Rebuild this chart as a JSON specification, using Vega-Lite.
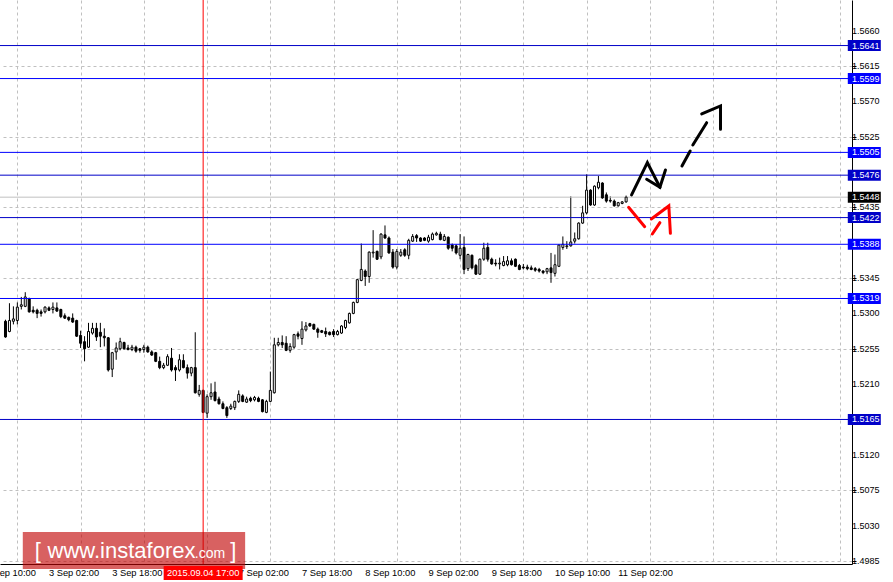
{
  "$schema": "https://vega.github.io/schema/vega-lite/v6.json",
  "width": 852,
  "height": 564,
  "autosize": {"type": "none"},
  "padding": {"left": 0, "top": 0, "right": 41, "bottom": 18},
  "background": "white",
  "config": {
    "view": {"stroke": null},
    "font": "Liberation Sans",
    "axis": {"title": null, "labels": false, "tickColor": "#000000", "domainColor": "#000000", "gridColor": "#c0c0c0", "gridDash": [3, 3], "gridOpacity": 1, "tickSize": 4, "domainWidth": 1}
  },
  "resolve": {"scale": {"color": "independent"}},
  "datasets": {
    "candles": [
      {"i": -11, "o": 1.5290, "h": 1.5292, "l": 1.5269, "c": 1.5270},
      {"i": -10, "o": 1.5277, "h": 1.5313, "l": 1.5276, "c": 1.5291},
      {"i": -9, "o": 1.5290, "h": 1.5309, "l": 1.5286, "c": 1.5293},
      {"i": -8, "o": 1.5291, "h": 1.5314, "l": 1.5286, "c": 1.5308},
      {"i": -7, "o": 1.5309, "h": 1.5321, "l": 1.5305, "c": 1.5311},
      {"i": -6, "o": 1.5309, "h": 1.5327, "l": 1.5308, "c": 1.5321},
      {"i": -5, "o": 1.5319, "h": 1.5320, "l": 1.5301, "c": 1.5302},
      {"i": -4, "o": 1.5304, "h": 1.5309, "l": 1.5300, "c": 1.5302},
      {"i": -3, "o": 1.5304, "h": 1.5306, "l": 1.5294, "c": 1.5300},
      {"i": -2, "o": 1.5302, "h": 1.5305, "l": 1.5296, "c": 1.5300},
      {"i": -1, "o": 1.5302, "h": 1.5309, "l": 1.5300, "c": 1.5308},
      {"i": 0, "o": 1.5307, "h": 1.5309, "l": 1.5303, "c": 1.5304},
      {"i": 1, "o": 1.5305, "h": 1.5314, "l": 1.5300, "c": 1.5308},
      {"i": 2, "o": 1.5307, "h": 1.5314, "l": 1.5302, "c": 1.5303},
      {"i": 3, "o": 1.5305, "h": 1.5306, "l": 1.5294, "c": 1.5296},
      {"i": 4, "o": 1.5297, "h": 1.5300, "l": 1.5293, "c": 1.5294},
      {"i": 5, "o": 1.5295, "h": 1.5296, "l": 1.5290, "c": 1.5292},
      {"i": 6, "o": 1.5294, "h": 1.5300, "l": 1.5288, "c": 1.5289},
      {"i": 7, "o": 1.5291, "h": 1.5292, "l": 1.5270, "c": 1.5271},
      {"i": 8, "o": 1.5272, "h": 1.5278, "l": 1.5256, "c": 1.5262},
      {"i": 9, "o": 1.5264, "h": 1.5271, "l": 1.5239, "c": 1.5255},
      {"i": 10, "o": 1.5257, "h": 1.5288, "l": 1.5256, "c": 1.5277},
      {"i": 11, "o": 1.5275, "h": 1.5288, "l": 1.5273, "c": 1.5281},
      {"i": 12, "o": 1.5281, "h": 1.5288, "l": 1.5265, "c": 1.5270},
      {"i": 13, "o": 1.5276, "h": 1.5288, "l": 1.5257, "c": 1.5271},
      {"i": 14, "o": 1.5271, "h": 1.5281, "l": 1.5258, "c": 1.5269},
      {"i": 15, "o": 1.5269, "h": 1.5270, "l": 1.5226, "c": 1.5228},
      {"i": 16, "o": 1.5229, "h": 1.5251, "l": 1.5219, "c": 1.5250},
      {"i": 17, "o": 1.5251, "h": 1.5263, "l": 1.5241, "c": 1.5256},
      {"i": 18, "o": 1.5255, "h": 1.5269, "l": 1.5253, "c": 1.5264},
      {"i": 19, "o": 1.5263, "h": 1.5264, "l": 1.5254, "c": 1.5255},
      {"i": 20, "o": 1.5256, "h": 1.5260, "l": 1.5253, "c": 1.5254},
      {"i": 21, "o": 1.5254, "h": 1.5260, "l": 1.5252, "c": 1.5257},
      {"i": 22, "o": 1.5257, "h": 1.5259, "l": 1.5250, "c": 1.5252},
      {"i": 23, "o": 1.5255, "h": 1.5256, "l": 1.5250, "c": 1.5253},
      {"i": 24, "o": 1.5254, "h": 1.5260, "l": 1.5250, "c": 1.5257},
      {"i": 25, "o": 1.5257, "h": 1.5259, "l": 1.5250, "c": 1.5251},
      {"i": 26, "o": 1.5251, "h": 1.5253, "l": 1.5246, "c": 1.5247},
      {"i": 27, "o": 1.5250, "h": 1.5251, "l": 1.5238, "c": 1.5239},
      {"i": 28, "o": 1.5239, "h": 1.5245, "l": 1.5229, "c": 1.5231},
      {"i": 29, "o": 1.5231, "h": 1.5237, "l": 1.5229, "c": 1.5234},
      {"i": 30, "o": 1.5234, "h": 1.5248, "l": 1.5233, "c": 1.5245},
      {"i": 31, "o": 1.5243, "h": 1.5256, "l": 1.5226, "c": 1.5228},
      {"i": 32, "o": 1.5231, "h": 1.5234, "l": 1.5214, "c": 1.5228},
      {"i": 33, "o": 1.5228, "h": 1.5248, "l": 1.5226, "c": 1.5241},
      {"i": 34, "o": 1.5240, "h": 1.5248, "l": 1.5230, "c": 1.5231},
      {"i": 35, "o": 1.5231, "h": 1.5235, "l": 1.5217, "c": 1.5224},
      {"i": 36, "o": 1.5224, "h": 1.5232, "l": 1.5220, "c": 1.5231},
      {"i": 37, "o": 1.5231, "h": 1.5276, "l": 1.5198, "c": 1.5199},
      {"i": 38, "o": 1.5197, "h": 1.5209, "l": 1.5194, "c": 1.5202},
      {"i": 39, "o": 1.5202, "h": 1.5203, "l": 1.5173, "c": 1.5174},
      {"i": 40, "o": 1.5173, "h": 1.5197, "l": 1.5167, "c": 1.5194},
      {"i": 41, "o": 1.5194, "h": 1.5211, "l": 1.5190, "c": 1.5199},
      {"i": 42, "o": 1.5200, "h": 1.5213, "l": 1.5188, "c": 1.5189},
      {"i": 43, "o": 1.5191, "h": 1.5194, "l": 1.5184, "c": 1.5185},
      {"i": 44, "o": 1.5185, "h": 1.5188, "l": 1.5178, "c": 1.5179},
      {"i": 45, "o": 1.5180, "h": 1.5182, "l": 1.5167, "c": 1.5170},
      {"i": 46, "o": 1.5179, "h": 1.5185, "l": 1.5177, "c": 1.5182},
      {"i": 47, "o": 1.5180, "h": 1.5189, "l": 1.5177, "c": 1.5188},
      {"i": 48, "o": 1.5188, "h": 1.5202, "l": 1.5186, "c": 1.5197},
      {"i": 49, "o": 1.5195, "h": 1.5197, "l": 1.5187, "c": 1.5188},
      {"i": 50, "o": 1.5187, "h": 1.5194, "l": 1.5186, "c": 1.5191},
      {"i": 51, "o": 1.5192, "h": 1.5194, "l": 1.5187, "c": 1.5189},
      {"i": 52, "o": 1.5190, "h": 1.5195, "l": 1.5188, "c": 1.5193},
      {"i": 53, "o": 1.5192, "h": 1.5194, "l": 1.5187, "c": 1.5188},
      {"i": 54, "o": 1.5190, "h": 1.5191, "l": 1.5174, "c": 1.5175},
      {"i": 55, "o": 1.5174, "h": 1.5190, "l": 1.5173, "c": 1.5188},
      {"i": 56, "o": 1.5188, "h": 1.5226, "l": 1.5187, "c": 1.5202},
      {"i": 57, "o": 1.5199, "h": 1.5269, "l": 1.5198, "c": 1.5260},
      {"i": 58, "o": 1.5260, "h": 1.5269, "l": 1.5258, "c": 1.5263},
      {"i": 59, "o": 1.5263, "h": 1.5272, "l": 1.5256, "c": 1.5260},
      {"i": 60, "o": 1.5262, "h": 1.5271, "l": 1.5252, "c": 1.5253},
      {"i": 61, "o": 1.5253, "h": 1.5262, "l": 1.5250, "c": 1.5258},
      {"i": 62, "o": 1.5257, "h": 1.5274, "l": 1.5255, "c": 1.5273},
      {"i": 63, "o": 1.5274, "h": 1.5277, "l": 1.5267, "c": 1.5271},
      {"i": 64, "o": 1.5268, "h": 1.5290, "l": 1.5260, "c": 1.5280},
      {"i": 65, "o": 1.5279, "h": 1.5289, "l": 1.5277, "c": 1.5284},
      {"i": 66, "o": 1.5287, "h": 1.5288, "l": 1.5283, "c": 1.5284},
      {"i": 67, "o": 1.5286, "h": 1.5287, "l": 1.5279, "c": 1.5280},
      {"i": 68, "o": 1.5280, "h": 1.5282, "l": 1.5269, "c": 1.5276},
      {"i": 69, "o": 1.5278, "h": 1.5279, "l": 1.5275, "c": 1.5276},
      {"i": 70, "o": 1.5277, "h": 1.5282, "l": 1.5270, "c": 1.5274},
      {"i": 71, "o": 1.5276, "h": 1.5277, "l": 1.5272, "c": 1.5273},
      {"i": 72, "o": 1.5277, "h": 1.5280, "l": 1.5270, "c": 1.5273},
      {"i": 73, "o": 1.5273, "h": 1.5279, "l": 1.5272, "c": 1.5277},
      {"i": 74, "o": 1.5275, "h": 1.5285, "l": 1.5274, "c": 1.5284},
      {"i": 75, "o": 1.5282, "h": 1.5292, "l": 1.5280, "c": 1.5291},
      {"i": 76, "o": 1.5288, "h": 1.5301, "l": 1.5287, "c": 1.5300},
      {"i": 77, "o": 1.5300, "h": 1.5315, "l": 1.5299, "c": 1.5314},
      {"i": 78, "o": 1.5314, "h": 1.5344, "l": 1.5313, "c": 1.5343},
      {"i": 79, "o": 1.5342, "h": 1.5389, "l": 1.5341, "c": 1.5356},
      {"i": 80, "o": 1.5354, "h": 1.5356, "l": 1.5335, "c": 1.5347},
      {"i": 81, "o": 1.5347, "h": 1.5379, "l": 1.5339, "c": 1.5378},
      {"i": 82, "o": 1.5377, "h": 1.5406, "l": 1.5371, "c": 1.5378},
      {"i": 83, "o": 1.5379, "h": 1.5380, "l": 1.5368, "c": 1.5369},
      {"i": 84, "o": 1.5372, "h": 1.5402, "l": 1.5369, "c": 1.5401},
      {"i": 85, "o": 1.5400, "h": 1.5412, "l": 1.5395, "c": 1.5396},
      {"i": 86, "o": 1.5396, "h": 1.5398, "l": 1.5376, "c": 1.5377},
      {"i": 87, "o": 1.5378, "h": 1.5382, "l": 1.5357, "c": 1.5359},
      {"i": 88, "o": 1.5359, "h": 1.5382, "l": 1.5356, "c": 1.5379},
      {"i": 89, "o": 1.5374, "h": 1.5382, "l": 1.5372, "c": 1.5378},
      {"i": 90, "o": 1.5381, "h": 1.5383, "l": 1.5372, "c": 1.5374},
      {"i": 91, "o": 1.5374, "h": 1.5395, "l": 1.5369, "c": 1.5393},
      {"i": 92, "o": 1.5392, "h": 1.5401, "l": 1.5391, "c": 1.5398},
      {"i": 93, "o": 1.5399, "h": 1.5401, "l": 1.5391, "c": 1.5396},
      {"i": 94, "o": 1.5396, "h": 1.5397, "l": 1.5391, "c": 1.5392},
      {"i": 95, "o": 1.5396, "h": 1.5397, "l": 1.5392, "c": 1.5393},
      {"i": 96, "o": 1.5392, "h": 1.5400, "l": 1.5390, "c": 1.5397},
      {"i": 97, "o": 1.5394, "h": 1.5403, "l": 1.5393, "c": 1.5401},
      {"i": 98, "o": 1.5400, "h": 1.5404, "l": 1.5399, "c": 1.5402},
      {"i": 99, "o": 1.5401, "h": 1.5404, "l": 1.5393, "c": 1.5394},
      {"i": 100, "o": 1.5393, "h": 1.5401, "l": 1.5392, "c": 1.5398},
      {"i": 101, "o": 1.5397, "h": 1.5398, "l": 1.5381, "c": 1.5383},
      {"i": 102, "o": 1.5387, "h": 1.5389, "l": 1.5379, "c": 1.5383},
      {"i": 103, "o": 1.5386, "h": 1.5388, "l": 1.5375, "c": 1.5377},
      {"i": 104, "o": 1.5374, "h": 1.5401, "l": 1.5369, "c": 1.5383},
      {"i": 105, "o": 1.5384, "h": 1.5398, "l": 1.5350, "c": 1.5356},
      {"i": 106, "o": 1.5357, "h": 1.5376, "l": 1.5354, "c": 1.5375},
      {"i": 107, "o": 1.5374, "h": 1.5375, "l": 1.5356, "c": 1.5358},
      {"i": 108, "o": 1.5361, "h": 1.5363, "l": 1.5349, "c": 1.5350},
      {"i": 109, "o": 1.5350, "h": 1.5370, "l": 1.5349, "c": 1.5369},
      {"i": 110, "o": 1.5369, "h": 1.5390, "l": 1.5367, "c": 1.5383},
      {"i": 111, "o": 1.5384, "h": 1.5390, "l": 1.5366, "c": 1.5369},
      {"i": 112, "o": 1.5369, "h": 1.5371, "l": 1.5362, "c": 1.5363},
      {"i": 113, "o": 1.5364, "h": 1.5369, "l": 1.5360, "c": 1.5363},
      {"i": 114, "o": 1.5363, "h": 1.5371, "l": 1.5356, "c": 1.5364},
      {"i": 115, "o": 1.5361, "h": 1.5373, "l": 1.5360, "c": 1.5366},
      {"i": 116, "o": 1.5362, "h": 1.5373, "l": 1.5360, "c": 1.5367},
      {"i": 117, "o": 1.5367, "h": 1.5370, "l": 1.5361, "c": 1.5362},
      {"i": 118, "o": 1.5369, "h": 1.5370, "l": 1.5359, "c": 1.5360},
      {"i": 119, "o": 1.5361, "h": 1.5363, "l": 1.5355, "c": 1.5356},
      {"i": 120, "o": 1.5359, "h": 1.5363, "l": 1.5356, "c": 1.5358},
      {"i": 121, "o": 1.5359, "h": 1.5362, "l": 1.5355, "c": 1.5357},
      {"i": 122, "o": 1.5358, "h": 1.5361, "l": 1.5355, "c": 1.5356},
      {"i": 123, "o": 1.5357, "h": 1.5359, "l": 1.5353, "c": 1.5355},
      {"i": 124, "o": 1.5356, "h": 1.5358, "l": 1.5352, "c": 1.5354},
      {"i": 125, "o": 1.5354, "h": 1.5355, "l": 1.5350, "c": 1.5352},
      {"i": 126, "o": 1.5353, "h": 1.5358, "l": 1.5350, "c": 1.5357},
      {"i": 127, "o": 1.5358, "h": 1.5377, "l": 1.5339, "c": 1.5352},
      {"i": 128, "o": 1.5351, "h": 1.5375, "l": 1.5347, "c": 1.5362},
      {"i": 129, "o": 1.5360, "h": 1.5388, "l": 1.5359, "c": 1.5387},
      {"i": 130, "o": 1.5384, "h": 1.5398, "l": 1.5381, "c": 1.5388},
      {"i": 131, "o": 1.5385, "h": 1.5392, "l": 1.5382, "c": 1.5386},
      {"i": 132, "o": 1.5386, "h": 1.5449, "l": 1.5385, "c": 1.5391},
      {"i": 133, "o": 1.5392, "h": 1.5403, "l": 1.5389, "c": 1.5395},
      {"i": 134, "o": 1.5395, "h": 1.5416, "l": 1.5394, "c": 1.5415},
      {"i": 135, "o": 1.5415, "h": 1.5437, "l": 1.5414, "c": 1.5428},
      {"i": 136, "o": 1.5428, "h": 1.5477, "l": 1.5426, "c": 1.5457},
      {"i": 137, "o": 1.5457, "h": 1.5458, "l": 1.5437, "c": 1.5438},
      {"i": 138, "o": 1.5438, "h": 1.5463, "l": 1.5437, "c": 1.5462},
      {"i": 139, "o": 1.5460, "h": 1.5475, "l": 1.5458, "c": 1.5467},
      {"i": 140, "o": 1.5466, "h": 1.5467, "l": 1.5446, "c": 1.5447},
      {"i": 141, "o": 1.5451, "h": 1.5454, "l": 1.5441, "c": 1.5443},
      {"i": 142, "o": 1.5444, "h": 1.5449, "l": 1.5441, "c": 1.5443},
      {"i": 143, "o": 1.5443, "h": 1.5445, "l": 1.5436, "c": 1.5437},
      {"i": 144, "o": 1.5437, "h": 1.5442, "l": 1.5436, "c": 1.5441},
      {"i": 145, "o": 1.5440, "h": 1.5443, "l": 1.5439, "c": 1.5442},
      {"i": 146, "o": 1.5442, "h": 1.5450, "l": 1.5441, "c": 1.5448}
    ],
    "levels": [
      {"p": 1.5641, "group": "strong"},
      {"p": 1.5599, "group": "weak"},
      {"p": 1.5505, "group": "weak"},
      {"p": 1.5476, "group": "strong"},
      {"p": 1.5422, "group": "strong"},
      {"p": 1.5388, "group": "weak"},
      {"p": 1.5319, "group": "weak"},
      {"p": 1.5165, "group": "strong"}
    ],
    "current": [{"p": 1.5448}],
    "cursor": [{"i": 39, "label": "2015.09.04 17:00"}],
    "pricelabels": [
      {"p": 1.5660}, {"p": 1.5615}, {"p": 1.5570}, {"p": 1.5525}, {"p": 1.5435},
      {"p": 1.5345}, {"p": 1.5300}, {"p": 1.5255}, {"p": 1.5210}, {"p": 1.5120},
      {"p": 1.5075}, {"p": 1.5030}, {"p": 1.4985}
    ],
    "timelabels": [
      {"i": -16, "label": "2 Sep 10:00"},
      {"i": 0, "label": "3 Sep 02:00"},
      {"i": 16, "label": "3 Sep 18:00"},
      {"i": 48, "label": "7 Sep 02:00"},
      {"i": 64, "label": "7 Sep 18:00"},
      {"i": 80, "label": "8 Sep 10:00"},
      {"i": 96, "label": "9 Sep 02:00"},
      {"i": 112, "label": "9 Sep 18:00"},
      {"i": 128, "label": "10 Sep 10:00"},
      {"i": 144, "label": "11 Sep 02:00"}
    ],
    "arrows": [
      {"seg": "b1", "k": 0, "side": "up", "i": 147.375, "p": 1.54508},
      {"seg": "b1", "k": 1, "side": "up", "i": 151.375, "p": 1.54919},
      {"seg": "b1", "k": 2, "side": "up", "i": 154.55, "p": 1.54606},
      {"seg": "b2", "k": 0, "side": "up", "i": 151.2, "p": 1.54707},
      {"seg": "b2", "k": 1, "side": "up", "i": 154.55, "p": 1.54606},
      {"seg": "b2", "k": 2, "side": "up", "i": 155.95, "p": 1.54826},
      {"seg": "b3", "k": 0, "side": "up", "i": 160.125, "p": 1.54877},
      {"seg": "b3", "k": 1, "side": "up", "i": 162.2, "p": 1.55068},
      {"seg": "b4", "k": 0, "side": "up", "i": 162.875, "p": 1.55144},
      {"seg": "b4", "k": 1, "side": "up", "i": 166.375, "p": 1.55428},
      {"seg": "b5", "k": 0, "side": "up", "i": 165.125, "p": 1.55539},
      {"seg": "b5", "k": 1, "side": "up", "i": 169.875, "p": 1.55641},
      {"seg": "b5", "k": 2, "side": "up", "i": 169.875, "p": 1.55344},
      {"seg": "r1", "k": 0, "side": "down", "i": 146.625, "p": 1.54351},
      {"seg": "r1", "k": 1, "side": "down", "i": 150.7, "p": 1.54104},
      {"seg": "r2", "k": 0, "side": "down", "i": 152.625, "p": 1.54011},
      {"seg": "r2", "k": 1, "side": "down", "i": 154.55, "p": 1.54155},
      {"seg": "r3", "k": 0, "side": "down", "i": 152.375, "p": 1.54202},
      {"seg": "r3", "k": 1, "side": "down", "i": 156.8, "p": 1.54368},
      {"seg": "r3", "k": 2, "side": "down", "i": 157.2, "p": 1.54020}
    ]
  },
  "layer": [
    {
      "data": {"name": "candles"},
      "mark": {"type": "rule", "color": "#000000", "strokeWidth": 1},
      "encoding": {
        "x": {
          "field": "i", "type": "quantitative",
          "scale": {"domain": [-11.125, 201.875], "nice": false, "zero": false},
          "axis": {
            "orient": "bottom",
            "values": [-8, 0, 8, 16, 24, 32, 40, 48, 56, 64, 72, 80, 88, 96, 104, 112, 120, 128, 136, 144, 152, 160, 168, 176, 184, 192, 200],
            "grid": true,
            "labels": false,
            "tickOpacity": {"condition": {"test": "datum.value % 16 === 0 && datum.value <= 144", "value": 1}, "value": 0}
          }
        },
        "y": {
          "field": "l", "type": "quantitative",
          "scale": {"domain": [1.4981, 1.5699], "nice": false, "zero": false},
          "axis": {
            "orient": "right",
            "values": [1.4985, 1.5030, 1.5075, 1.5120, 1.5165, 1.5210, 1.5255, 1.5300, 1.5345, 1.5390, 1.5435, 1.5480, 1.5525, 1.5570, 1.5615, 1.5660],
            "grid": true,
            "labels": false
          }
        },
        "y2": {"field": "h"}
      }
    },
    {
      "data": {"name": "current"},
      "mark": {"type": "rule", "color": "#c0c0c0", "strokeWidth": 1},
      "encoding": {
        "y": {"field": "p", "type": "quantitative"}
      }
    },
    {
      "data": {"name": "candles"},
      "mark": {"type": "bar", "size": 2, "stroke": "#000000", "strokeWidth": 1},
      "encoding": {
        "x": {"field": "i", "type": "quantitative"},
        "y": {"field": "o", "type": "quantitative"},
        "y2": {"field": "c"},
        "fill": {"condition": {"test": "datum.c < datum.o", "value": "#000000"}, "value": "#ffffff"}
      }
    },
    {
      "data": {"name": "levels"},
      "mark": {"type": "rule", "strokeWidth": 1},
      "encoding": {
        "y": {"field": "p", "type": "quantitative"},
        "color": {"field": "group", "type": "nominal", "scale": {"domain": ["strong", "weak"], "range": ["#0000c8", "#0000ff"]}, "legend": null}
      }
    },
    {
      "data": {"name": "cursor"},
      "mark": {"type": "rule", "color": "#ff0000", "strokeWidth": 1},
      "encoding": {
        "x": {"field": "i", "type": "quantitative"}
      }
    },
    {
      "data": {"name": "arrows"},
      "mark": {"type": "line", "strokeWidth": 3, "strokeCap": "round"},
      "encoding": {
        "x": {"field": "i", "type": "quantitative"},
        "y": {"field": "p", "type": "quantitative"},
        "detail": {"field": "seg"},
        "order": {"field": "k"},
        "color": {"field": "side", "type": "nominal", "scale": {"domain": ["up", "down"], "range": ["#000000", "#ff0000"]}, "legend": null}
      }
    },
    {
      "data": {"name": "pricelabels"},
      "mark": {"type": "text", "align": "left", "baseline": "middle", "color": "#000000", "fontSize": 9, "font": "Liberation Sans"},
      "encoding": {
        "x": {"datum": 203.125, "type": "quantitative"},
        "y": {"field": "p", "type": "quantitative"},
        "text": {"field": "p", "type": "quantitative", "format": ".4f"}
      }
    },
    {
      "data": {"name": "timelabels"},
      "mark": {"type": "text", "align": "left", "baseline": "top", "color": "#000000", "fontSize": 9.3, "font": "Liberation Sans"},
      "encoding": {
        "x": {"field": "i", "type": "quantitative"},
        "y": {"datum": 1.4974, "type": "quantitative"},
        "text": {"field": "label"}
      }
    },
    {
      "data": {"values": [{"site": "www.instaforex.com"}]},
      "mark": {"type": "rect", "color": "#c00000", "opacity": 0.62},
      "encoding": {
        "x": {"datum": -6.625, "type": "quantitative"},
        "x2": {"datum": 49.625},
        "y": {"datum": 1.50217, "type": "quantitative"},
        "y2": {"datum": 1.49746}
      }
    },
    {
      "data": {"values": [{"t": "["}]},
      "mark": {"type": "text", "align": "left", "baseline": "alphabetic", "color": "#ffffff", "fontSize": 22, "font": "Liberation Sans"},
      "encoding": {
        "x": {"datum": -3.625, "type": "quantitative"},
        "y": {"datum": 1.49890, "type": "quantitative"},
        "text": {"field": "t"}
      }
    },
    {
      "data": {"values": [{"t": "www.instaforex"}]},
      "mark": {"type": "text", "align": "left", "baseline": "alphabetic", "color": "#ffffff", "fontSize": 22, "font": "Liberation Sans"},
      "encoding": {
        "x": {"datum": -0.375, "type": "quantitative"},
        "y": {"datum": 1.49886, "type": "quantitative"},
        "text": {"field": "t"}
      }
    },
    {
      "data": {"values": [{"t": ".com"}]},
      "mark": {"type": "text", "align": "left", "baseline": "alphabetic", "color": "#ffffff", "fontSize": 14, "font": "Liberation Sans"},
      "encoding": {
        "x": {"datum": 36.875, "type": "quantitative"},
        "y": {"datum": 1.49886, "type": "quantitative"},
        "text": {"field": "t"}
      }
    },
    {
      "data": {"values": [{"t": "]"}]},
      "mark": {"type": "text", "align": "left", "baseline": "alphabetic", "color": "#ffffff", "fontSize": 22, "font": "Liberation Sans"},
      "encoding": {
        "x": {"datum": 45.875, "type": "quantitative"},
        "y": {"datum": 1.49890, "type": "quantitative"},
        "text": {"field": "t"}
      }
    },
    {
      "data": {"name": "cursor"},
      "mark": {"type": "tick", "orient": "horizontal", "size": 79, "thickness": 14, "color": "#ff0000", "opacity": 1},
      "encoding": {
        "x": {"field": "i", "type": "quantitative"},
        "y": {"datum": 1.49695, "type": "quantitative"}
      }
    },
    {
      "data": {"name": "cursor"},
      "mark": {"type": "text", "align": "center", "baseline": "middle", "color": "#ffffff", "fontSize": 9.3, "font": "Liberation Sans"},
      "encoding": {
        "x": {"field": "i", "type": "quantitative"},
        "y": {"datum": 1.49695, "type": "quantitative"},
        "text": {"field": "label"}
      }
    },
    {
      "data": {"name": "levels"},
      "mark": {"type": "tick", "orient": "horizontal", "size": 33, "thickness": 11, "opacity": 1},
      "encoding": {
        "x": {"datum": 206.25, "type": "quantitative"},
        "y": {"field": "p", "type": "quantitative"},
        "color": {"field": "group", "type": "nominal", "scale": {"domain": ["strong", "weak"], "range": ["#0000c8", "#0000ff"]}, "legend": null}
      }
    },
    {
      "data": {"name": "levels"},
      "mark": {"type": "text", "align": "left", "baseline": "middle", "color": "#ffffff", "fontSize": 9, "font": "Liberation Sans"},
      "encoding": {
        "x": {"datum": 203.125, "type": "quantitative"},
        "y": {"field": "p", "type": "quantitative"},
        "text": {"field": "p", "type": "quantitative", "format": ".4f"}
      }
    },
    {
      "data": {"name": "current"},
      "mark": {"type": "tick", "orient": "horizontal", "size": 33, "thickness": 11, "color": "#000000", "opacity": 1},
      "encoding": {
        "x": {"datum": 206.25, "type": "quantitative"},
        "y": {"field": "p", "type": "quantitative"}
      }
    },
    {
      "data": {"name": "current"},
      "mark": {"type": "text", "align": "left", "baseline": "middle", "color": "#ffffff", "fontSize": 9, "font": "Liberation Sans"},
      "encoding": {
        "x": {"datum": 203.125, "type": "quantitative"},
        "y": {"field": "p", "type": "quantitative"},
        "text": {"field": "p", "type": "quantitative", "format": ".4f"}
      }
    }
  ]
}
